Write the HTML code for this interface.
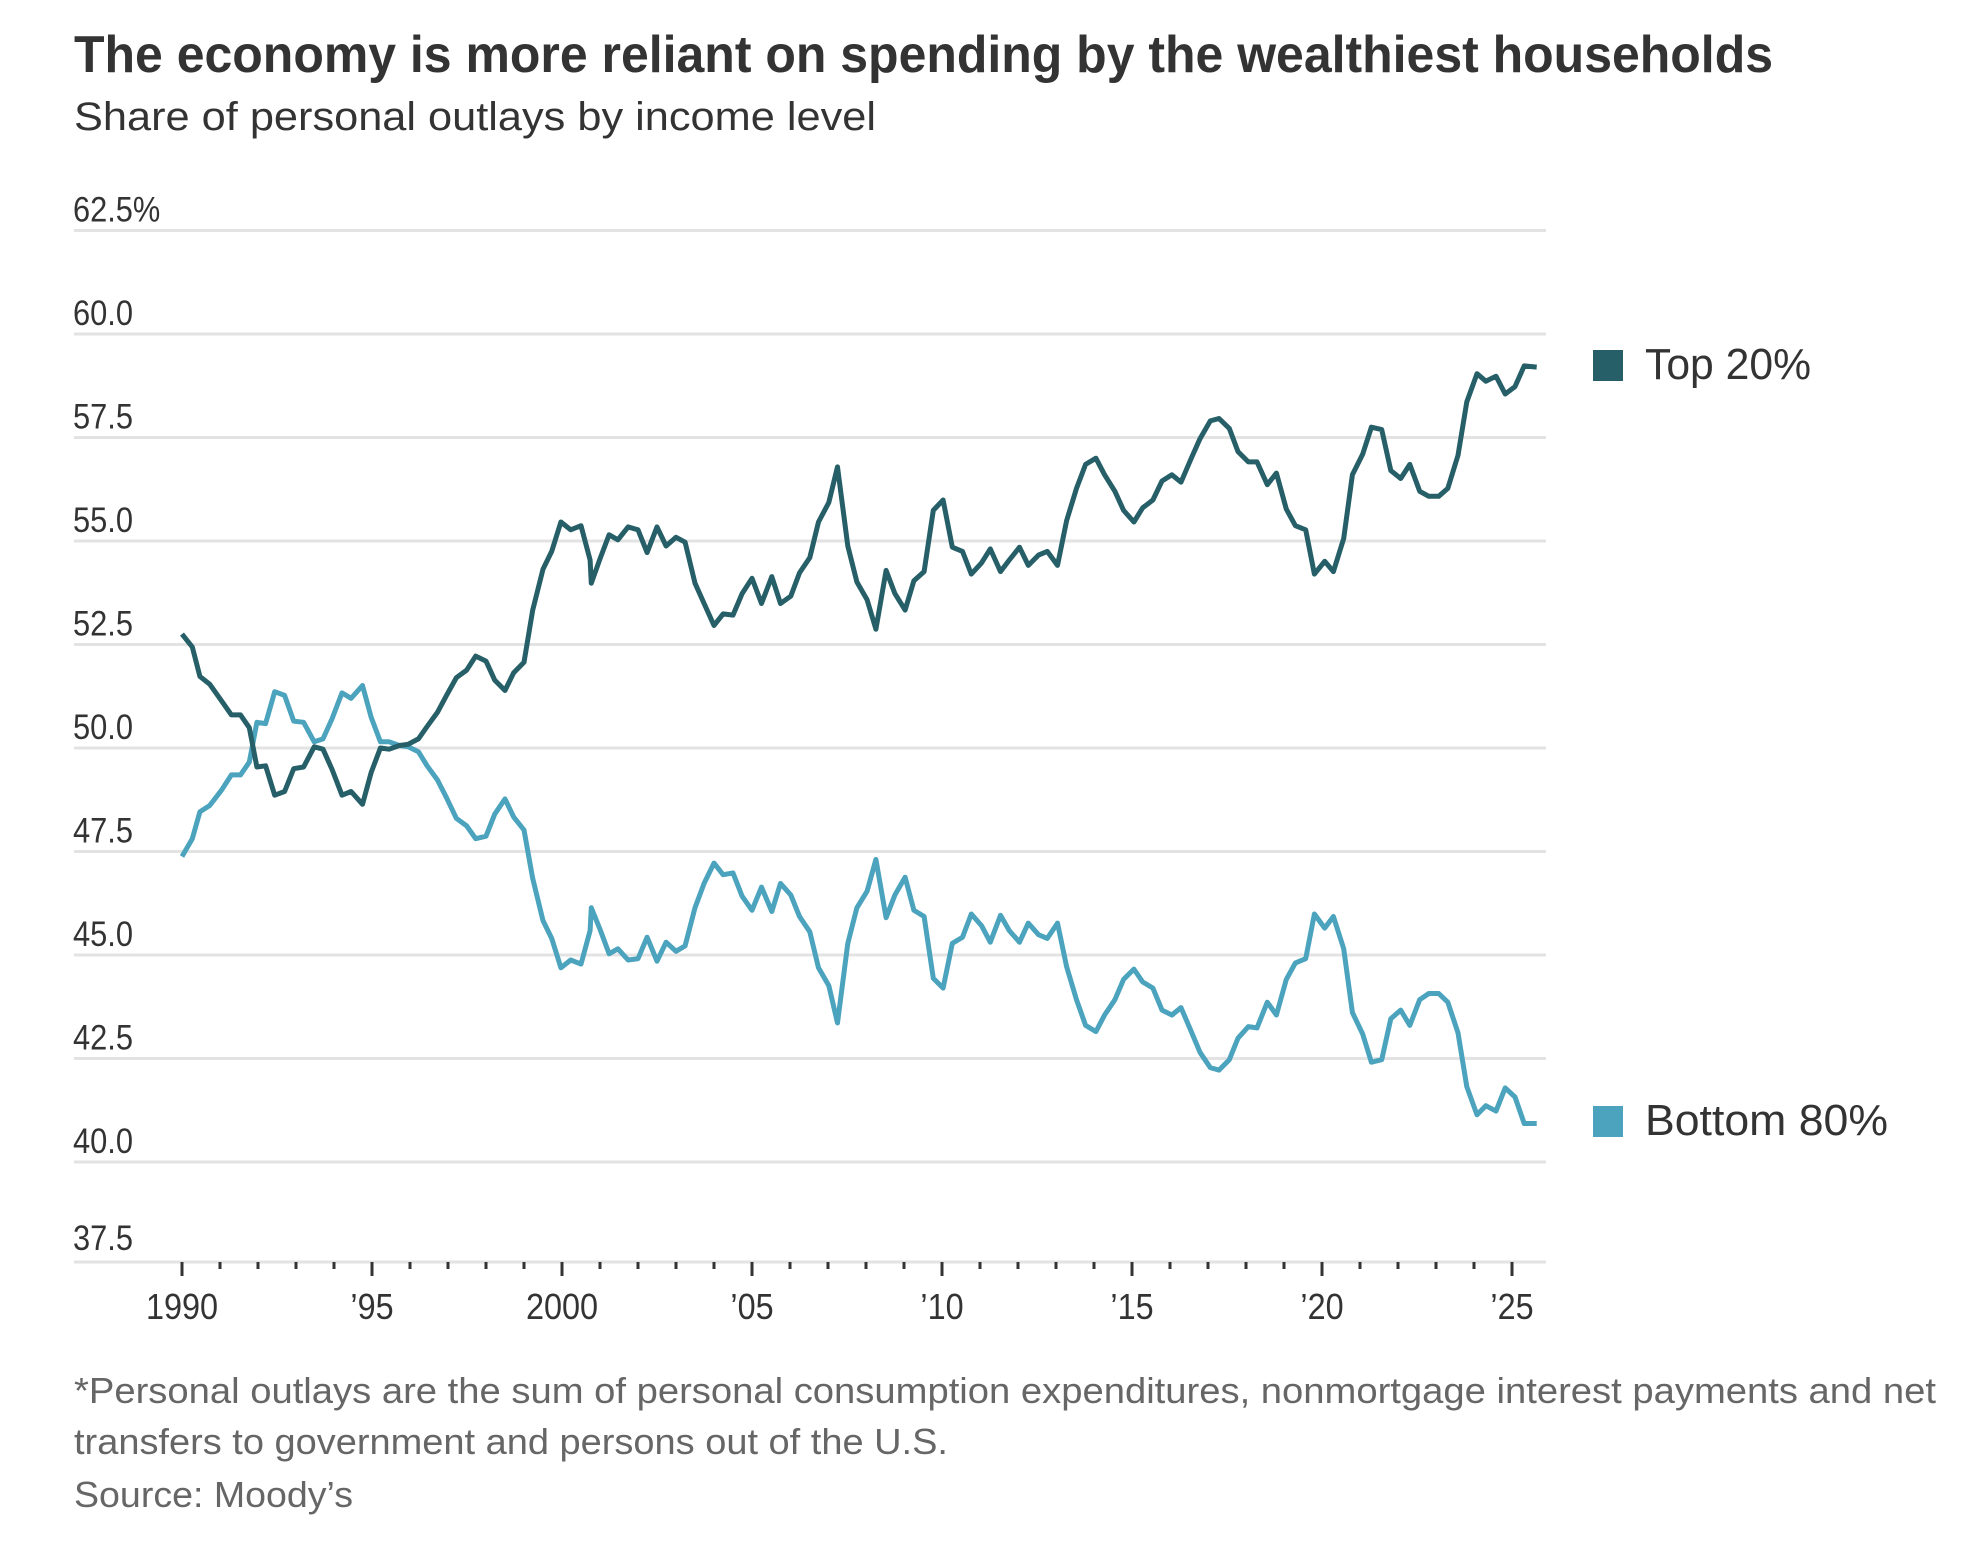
<!DOCTYPE html>
<html><head><meta charset="utf-8"><style>
html,body{margin:0;padding:0;background:#fff;}
svg{display:block;font-family:"Liberation Sans",sans-serif;}
</style></head><body>
<svg id="chart" width="1986" height="1548" viewBox="0 0 1986 1548" xmlns="http://www.w3.org/2000/svg">
<rect width="1986" height="1548" fill="#fff"/>
<text x="74" y="72" font-size="52" font-weight="bold" fill="#333" textLength="1699" lengthAdjust="spacingAndGlyphs">The economy is more reliant on spending by the wealthiest households</text>
<text x="74" y="130" font-size="40" fill="#333" textLength="802" lengthAdjust="spacingAndGlyphs">Share of personal outlays by income level</text>
<g id="grid"></g>
<g id="yaxis"></g>
<g id="xaxis"></g>
<g id="series"></g>
<g>
<g>
<rect x="1593" y="350" width="30" height="31" fill="#265f68"/>
<text x="1645" y="379" font-size="44" fill="#333" textLength="166" lengthAdjust="spacingAndGlyphs">Top 20%</text>
</g>
<g>
<rect x="1593" y="1106" width="30" height="31" fill="#4ba3bd"/>
<text x="1645" y="1135" font-size="44" fill="#333" textLength="243" lengthAdjust="spacingAndGlyphs">Bottom 80%</text>
</g>
</g>
<g fill="#666" font-size="36">
<text x="74" y="1403" textLength="1862" lengthAdjust="spacingAndGlyphs">*Personal outlays are the sum of personal consumption expenditures, nonmortgage interest payments and net</text>
<text x="74" y="1454" textLength="874" lengthAdjust="spacingAndGlyphs">transfers to government and persons out of the U.S.</text>
<text x="74" y="1507" textLength="279" lengthAdjust="spacingAndGlyphs">Source: Moody’s</text>
</g>
</svg>
<script>
const yTicks = [62.5, 60, 57.5, 55, 52.5, 50, 47.5, 45, 42.5, 40];
const yTickLabels = ["62.5%", "60.0", "57.5", "55.0", "52.5", "50.0", "47.5", "45.0", "42.5", "40.0"];
const xTickYears = [1990, 1995, 2000, 2005, 2010, 2015, 2020, 2025];
const xTickLabels = ["1990", "’95", "2000", "’05", "’10", "’15", "’20", "’25"];
const dates = [1990.0,1990.27,1990.47,1990.73,1991.04,1991.3,1991.54,1991.77,1991.97,1992.2,1992.44,1992.7,1992.94,1993.2,1993.48,1993.71,1993.95,1994.21,1994.45,1994.75,1994.98,1995.22,1995.45,1995.72,1995.95,1996.22,1996.45,1996.72,1996.96,1997.22,1997.49,1997.73,1998.0,1998.23,1998.5,1998.73,1999.0,1999.23,1999.5,1999.73,1999.97,2000.23,2000.5,2000.74,2000.77,2001.0,2001.24,2001.47,2001.74,2002.0,2002.24,2002.5,2002.74,2003.0,2003.24,2003.5,2003.74,2004.0,2004.24,2004.5,2004.74,2005.0,2005.25,2005.52,2005.75,2006.02,2006.25,2006.52,2006.75,2007.02,2007.25,2007.52,2007.76,2008.03,2008.26,2008.53,2008.76,2009.03,2009.26,2009.53,2009.77,2010.03,2010.27,2010.54,2010.77,2011.04,2011.27,2011.54,2011.77,2012.04,2012.27,2012.54,2012.77,2013.04,2013.28,2013.54,2013.78,2014.05,2014.28,2014.55,2014.78,2015.05,2015.28,2015.55,2015.79,2016.05,2016.29,2016.56,2016.79,2017.06,2017.29,2017.56,2017.79,2018.06,2018.29,2018.56,2018.8,2019.06,2019.3,2019.57,2019.8,2020.07,2020.3,2020.57,2020.8,2021.07,2021.3,2021.57,2021.81,2022.07,2022.31,2022.57,2022.81,2023.07,2023.31,2023.58,2023.81,2024.08,2024.31,2024.58,2024.82,2025.08,2025.32,2025.65];
const top20 = [52.75,52.44,51.73,51.54,51.14,50.8,50.8,50.49,49.54,49.57,48.86,48.95,49.5,49.54,50.03,49.97,49.48,48.86,48.95,48.64,49.41,50.0,49.97,50.06,50.09,50.22,50.52,50.86,51.27,51.7,51.88,52.22,52.1,51.64,51.39,51.82,52.07,53.33,54.32,54.75,55.46,55.27,55.37,54.54,53.98,54.57,55.15,55.03,55.34,55.27,54.72,55.34,54.88,55.09,54.97,53.98,53.49,52.96,53.24,53.21,53.73,54.1,53.49,54.14,53.49,53.67,54.23,54.6,55.46,55.93,56.79,54.88,54.01,53.58,52.87,54.29,53.73,53.33,54.04,54.26,55.74,55.99,54.85,54.75,54.2,54.47,54.81,54.26,54.54,54.85,54.41,54.66,54.75,54.41,55.49,56.27,56.85,57.0,56.6,56.2,55.74,55.46,55.8,55.99,56.45,56.6,56.42,57.0,57.47,57.9,57.96,57.72,57.16,56.91,56.91,56.36,56.64,55.77,55.37,55.27,54.2,54.51,54.26,55.06,56.6,57.1,57.75,57.69,56.7,56.51,56.85,56.2,56.08,56.08,56.27,57.07,58.36,59.04,58.86,58.98,58.55,58.73,59.23,59.2];
const bottom80 = [47.38,47.81,48.46,48.61,48.98,49.35,49.35,49.66,50.62,50.59,51.36,51.27,50.65,50.62,50.15,50.22,50.71,51.33,51.2,51.51,50.74,50.15,50.15,50.06,50.03,49.91,49.57,49.23,48.8,48.3,48.12,47.81,47.87,48.4,48.77,48.33,48.02,46.85,45.83,45.4,44.69,44.88,44.78,45.59,46.14,45.62,45.03,45.15,44.88,44.91,45.43,44.85,45.31,45.09,45.22,46.14,46.73,47.22,46.94,46.98,46.42,46.08,46.64,46.05,46.73,46.45,45.93,45.56,44.69,44.26,43.36,45.28,46.14,46.54,47.31,45.9,46.45,46.88,46.08,45.93,44.44,44.2,45.28,45.43,45.99,45.71,45.31,45.96,45.59,45.31,45.77,45.49,45.4,45.77,44.72,43.92,43.3,43.15,43.55,43.92,44.41,44.66,44.35,44.2,43.67,43.55,43.73,43.15,42.65,42.28,42.22,42.47,42.99,43.27,43.24,43.86,43.55,44.41,44.81,44.91,45.99,45.65,45.93,45.15,43.61,43.09,42.41,42.47,43.46,43.67,43.3,43.92,44.07,44.07,43.86,43.12,41.82,41.14,41.36,41.23,41.79,41.57,40.93,40.93];

const NS = "http://www.w3.org/2000/svg";
function xScale(yr){ return 182 + (yr - 1990) * 38.0; }
function yScale(v){ return 748 - (v - 50) * 41.4; }
function mk(tag, attrs, parent){ const e = document.createElementNS(NS, tag); for (const k in attrs) e.setAttribute(k, attrs[k]); parent.appendChild(e); return e; }
function narrow(t, f){ try { const w = t.getComputedTextLength(); if (w > 0) { t.setAttribute('textLength', (w * f).toFixed(1)); t.setAttribute('lengthAdjust', 'spacingAndGlyphs'); } } catch(e){} }

const grid = document.getElementById('grid');
const yaxis = document.getElementById('yaxis');
yTicks.forEach((v, i) => {
  const gy = yScale(v);
  const ln = mk('line', {x1: 74, x2: 1546, y1: gy, y2: gy, stroke: '#e3e3e3', 'stroke-width': 3}, grid);
  
  
  const t = mk('text', {x: 73, y: gy - 9, 'font-size': 35, fill: '#333'}, yaxis);
  t.textContent = yTickLabels[i];
  
  
  narrow(t, 0.88);
});
const lab375 = mk('text', {x: 73, y: 1250, 'font-size': 35, fill: '#333'}, yaxis);
lab375.textContent = '37.5';


narrow(lab375, 0.88);

const xaxis = document.getElementById('xaxis');
const axisY = 1262;
const base = mk('line', {x1: 74, x2: 1546, y1: axisY, y2: axisY, stroke: '#e3e3e3', 'stroke-width': 3}, xaxis);


for (let yr = 1990; yr <= 2025; yr++) {
  const major = xTickYears.indexOf(yr) >= 0;
  const tk = mk('line', {x1: xScale(yr), x2: xScale(yr), y1: axisY, y2: axisY + (major ? 14 : 7), stroke: '#333', 'stroke-width': 3}, xaxis);
  
  
}
xTickYears.forEach((yr, i) => {
  const t = mk('text', {x: xScale(yr), y: 1319, 'font-size': 36, fill: '#333', 'text-anchor': 'middle'}, xaxis);
  t.textContent = xTickLabels[i];
  
  
  narrow(t, 0.9);
});

const series = document.getElementById('series');
function drawLine(vals, color, name){
  const n = Math.min(dates.length, vals.length);
  let d = '';
  for (let i = 0; i < n; i++) d += (i ? 'L' : 'M') + xScale(dates[i]).toFixed(1) + ',' + yScale(vals[i]).toFixed(1);
  const p = mk('path', {d: d, fill: 'none', stroke: color, 'stroke-width': 5, 'stroke-linejoin': 'round'}, series);
  
  
}
drawLine(bottom80, '#4ba3bd', 'bottom-80-line');
drawLine(top20, '#265f68', 'top-20-line');
</script>
</body></html>
